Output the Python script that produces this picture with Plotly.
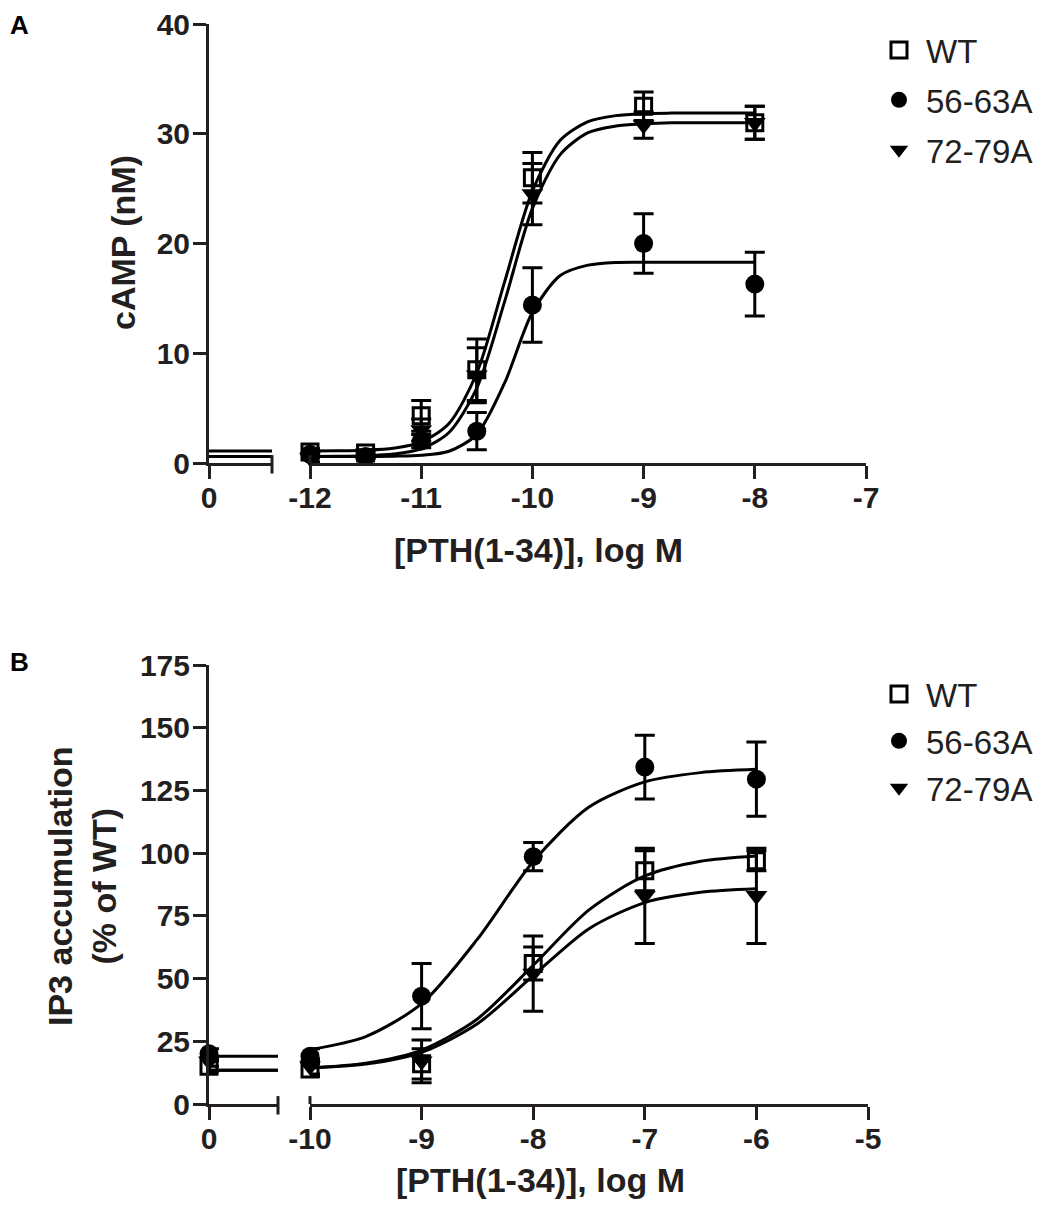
import plotly.graph_objects as go

# ---- data ----
series_names = ["WT", "56-63A", "72-79A"]

# Panel A: cAMP (nM) vs log[PTH(1-34)]
dose_a = [-12, -11.5, -11, -10.5, -10, -9, -8]
camp_wt = [1.0, 0.9, 4.3, 8.5, 26.0, 32.5, 31.0]
camp_wt_err = [0.3, 0.3, 1.4, 2.8, 2.3, 1.3, 1.5]
camp_5663 = [0.8, 0.6, 2.0, 2.9, 14.4, 20.0, 16.3]
camp_5663_err = [0.3, 0.2, 0.6, 1.7, 3.4, 2.7, 2.9]
camp_7279 = [0.5, 0.8, 3.0, 8.0, 24.5, 30.8, 31.0]
camp_7279_err = [0.4, 0.3, 1.0, 2.5, 2.8, 1.2, 1.5]
camp_basal = [1.1, 0.6, 0.6]  # fitted bottoms, drawn over the "0" segment

fit_x_a = [-12, -11.75, -11.5, -11.25, -11, -10.75, -10.5, -10.25, -10,
           -9.75, -9.5, -9.25, -9, -8.75, -8.5, -8.25, -8]
fit_a_wt = [1.1, 1.12, 1.17, 1.34, 1.9, 3.6, 8.2, 16.5, 24.8,
            29.4, 31.1, 31.65, 31.83, 31.88, 31.9, 31.9, 31.9]
fit_a_5663 = [0.6, 0.6, 0.6, 0.62, 0.7, 1.07, 2.61, 7.29, 13.73,
              17.09, 18.03, 18.28, 18.3, 18.3, 18.3, 18.3, 18.3]
fit_a_7279 = [0.6, 0.61, 0.66, 0.81, 1.28, 2.78, 6.83, 14.7, 23.2,
              28.1, 30.1, 30.7, 30.9, 31.0, 31.0, 31.0, 31.0]

# Panel B: IP3 accumulation (% of WT)
dose_b = [-10, -9, -8, -7, -6]
ip3_wt = [14, 16, 56, 93, 97]
ip3_wt_err = [3, 6, 6.6, 8, 4]
ip3_5663 = [19, 43, 98.6, 134.3, 129.5]
ip3_5663_err = [3, 13, 5.6, 12.7, 14.8]
ip3_7279 = [15, 17, 52, 83, 83]
ip3_7279_err = [3, 8.5, 15, 19, 19]
ip3_zero = [15, 20, 17]       # values at no ligand
ip3_zero_err = [2, 2, 2]
ip3_basal = [13.5, 19, 13.5]

fit_x_b = [-10, -9.5, -9, -8.5, -8, -7.5, -7, -6.5, -6]
fit_b_wt = [14.45, 16.3, 21.5, 33.9, 55.3, 77.4, 90.9, 96.8, 98.9]
fit_b_5663 = [21.7, 26.9, 40.0, 65.7, 96.7, 118.4, 128.4, 132.1, 133.4]
fit_b_7279 = [14.3, 15.9, 20.6, 32.0, 51.2, 69.9, 80.3, 84.4, 85.8]

ticks_a = [-12, -11, -10, -9, -8, -7]
ticks_a_text = ["-12", "-11", "-10", "-9", "-8", "-7"]
ticks_b = [-10, -9, -8, -7, -6, -5]
ticks_b_text = ["-10", "-9", "-8", "-7", "-6", "-5"]

# ---- layout helpers (image pixel -> paper), page body has an 8px margin ----
W, H = 1046, 1212
OFF = 8
PW, PH = W - 2 * OFF, H - 2 * OFF
FONT = "Liberation Sans, Arial, sans-serif"
INK = "#231f20"


def px_x(p):
    return (p - OFF) / PW


def px_y(p):
    return 1 - (p - OFF) / PH


symbols = {
    "WT": dict(symbol="square-open", size=16, color="black", line=dict(width=3, color="black")),
    "56-63A": dict(symbol="circle", size=19, color="black", line=dict(width=0)),
    "72-79A": dict(symbol="triangle-down", size=19, color="black", line=dict(width=0)),
}

fig = go.Figure()


def add_panel(xl, xm, ya, legend, dose, vals, errs, fit_x, fits, basal,
              zero_vals=None, zero_errs=None):
    for i, name in enumerate(series_names):
        # fitted curve
        fig.add_trace(go.Scatter(
            x=fit_x, y=fits[i], mode="lines", xaxis=xm, yaxis=ya,
            line=dict(color="black", width=3, shape="spline", smoothing=0.8),
            showlegend=False, hoverinfo="skip"))
        # baseline over the zero-dose segment
        fig.add_trace(go.Scatter(
            x=[0, 1], y=[basal[i], basal[i]], mode="lines", xaxis=xl, yaxis=ya,
            line=dict(color="black", width=3), showlegend=False, hoverinfo="skip"))
        if zero_vals is not None:
            fig.add_trace(go.Scatter(
                x=[0], y=[zero_vals[i]], mode="markers", xaxis=xl, yaxis=ya,
                marker=symbols[name], cliponaxis=False, showlegend=False,
                error_y=dict(type="data", array=[zero_errs[i]], thickness=3,
                             width=10, color="black")))
    for i, name in enumerate(series_names):
        fig.add_trace(go.Scatter(
            x=dose, y=vals[i], mode="markers", name=name, xaxis=xm, yaxis=ya,
            marker=symbols[name], cliponaxis=False, legend=legend,
            legendgroup=legend + name,
            error_y=dict(type="data", array=errs[i], thickness=3, width=10,
                         color="black")))


add_panel("x", "x2", "y", "legend", dose_a,
          [camp_wt, camp_5663, camp_7279],
          [camp_wt_err, camp_5663_err, camp_7279_err],
          fit_x_a, [fit_a_wt, fit_a_5663, fit_a_7279], camp_basal)
add_panel("x3", "x4", "y2", "legend2", dose_b,
          [ip3_wt, ip3_5663, ip3_7279],
          [ip3_wt_err, ip3_5663_err, ip3_7279_err],
          fit_x_b, [fit_b_wt, fit_b_5663, fit_b_7279], ip3_basal,
          ip3_zero, ip3_zero_err)

axis_common = dict(showline=True, linecolor=INK, linewidth=3, showgrid=False,
                   zeroline=False, ticks="outside", ticklen=13, tickwidth=3,
                   tickcolor=INK, automargin=False, ticklabeloverflow="allow",
                   tickfont=dict(family=FONT, size=30, color=INK, weight="bold"))
x_common = dict(axis_common, ticklabelstandoff=-7)
y_common = dict(axis_common, ticklabelstandoff=-3)

dom_a = [px_y(463), px_y(24)]
dom_b = [px_y(1104), px_y(665)]

legend_style = dict(xanchor="left", yanchor="top",
                    font=dict(family=FONT, size=33, color=INK),
                    traceorder="grouped", itemsizing="trace",
                    itemwidth=44, bgcolor="rgba(0,0,0,0)")

fig.update_layout(
    width=PW, height=PH,
    margin=dict(l=0, r=0, t=0, b=0, autoexpand=False),
    paper_bgcolor="white", plot_bgcolor="white",
    font=dict(family=FONT, color=INK),
    xaxis=dict(x_common, domain=[px_x(209), px_x(272)], range=[0, 1],
               anchor="y", tickvals=[0], ticktext=["0"]),
    xaxis2=dict(x_common, domain=[px_x(310), px_x(866)], range=[-12, -7],
                anchor="y", tickvals=ticks_a, ticktext=ticks_a_text),
    yaxis=dict(y_common, domain=dom_a, range=[0, 40], anchor="x",
               tickvals=[0, 10, 20, 30, 40]),
    xaxis3=dict(x_common, domain=[px_x(209), px_x(278)], range=[0, 1],
                anchor="y2", tickvals=[0], ticktext=["0"]),
    xaxis4=dict(x_common, domain=[px_x(310), px_x(868)], range=[-10, -5],
                anchor="y2", tickvals=ticks_b, ticktext=ticks_b_text),
    yaxis2=dict(y_common, domain=dom_b, range=[0, 175], anchor="x3",
                tickvals=[0, 25, 50, 75, 100, 125, 150, 175]),
    legend=dict(legend_style, x=px_x(872), y=px_y(22), tracegroupgap=4),
    legend2=dict(legend_style, x=px_x(872), y=px_y(666), tracegroupgap=1),
)

# axis-break end caps
caps = []
for xd, yd in [("x domain", "y domain"), ("x3 domain", "y2 domain")]:
    caps.append(dict(type="line", xref=xd, yref=yd, x0=1, x1=1, y0=-0.024, y1=0.018,
                     line=dict(color=INK, width=3)))
for xd, yd in [("x2 domain", "y domain"), ("x4 domain", "y2 domain")]:
    caps.append(dict(type="line", xref=xd, yref=yd, x0=0, x1=0, y0=0, y1=0.018,
                     line=dict(color=INK, width=3)))
fig.update_layout(shapes=caps)

title_font = dict(family=FONT, size=34, color=INK)


def title(text, x, y, angle=0):
    return dict(text=text, x=px_x(x), y=px_y(y), xref="paper", yref="paper",
                xanchor="center", yanchor="middle", textangle=angle,
                showarrow=False, font=title_font)


fig.update_layout(annotations=[
    dict(text="<b>A</b>", x=px_x(8), y=px_y(8), xref="paper", yref="paper",
         xanchor="left", yanchor="top", showarrow=False,
         font=dict(family=FONT, size=26, color="black")),
    dict(text="<b>B</b>", x=px_x(8), y=px_y(645), xref="paper", yref="paper",
         xanchor="left", yanchor="top", showarrow=False,
         font=dict(family=FONT, size=26, color="black")),
    title("<b>cAMP (nM)</b>", 123, 243, -90),
    title("<b>[PTH(1-34)], log M</b>", 538, 550),
    title("<b>IP3 accumulation<br>(% of WT)</b>", 82, 886, -90),
    title("<b>[PTH(1-34)], log M</b>", 540, 1180),
])

fig.write_html("out.html")
